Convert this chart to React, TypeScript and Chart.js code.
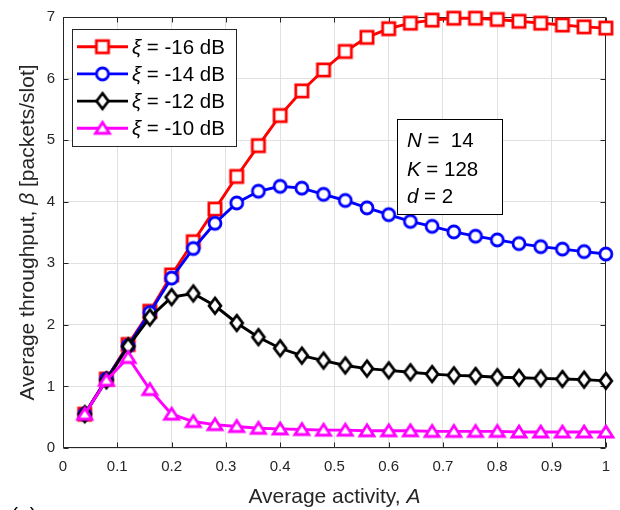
import React, { useEffect, useRef } from 'react';
import { Chart, registerables } from 'chart.js';

Chart.register(...registerables);

// ---------- data ----------
const activity = [0.04, 0.08, 0.12, 0.16, 0.2, 0.24, 0.28, 0.32, 0.36, 0.4, 0.44, 0.48, 0.52, 0.56, 0.6, 0.64, 0.68, 0.72, 0.76, 0.8, 0.84, 0.88, 0.92, 0.96, 1.0];
const xiLabels = ['-16', '-14', '-12', '-10'];
const throughputM16 = [0.55, 1.12, 1.68, 2.22, 2.81, 3.35, 3.88, 4.41, 4.91, 5.40, 5.80, 6.14, 6.44, 6.67, 6.81, 6.90, 6.95, 6.98, 6.98, 6.96, 6.93, 6.90, 6.87, 6.84, 6.82];
const throughputM14 = [0.55, 1.12, 1.66, 2.20, 2.76, 3.24, 3.65, 3.98, 4.17, 4.25, 4.22, 4.12, 4.02, 3.90, 3.79, 3.68, 3.60, 3.51, 3.44, 3.38, 3.32, 3.27, 3.23, 3.19, 3.15];
const throughputM12 = [0.55, 1.10, 1.65, 2.12, 2.45, 2.51, 2.31, 2.03, 1.80, 1.62, 1.50, 1.42, 1.34, 1.29, 1.26, 1.23, 1.20, 1.18, 1.17, 1.15, 1.14, 1.13, 1.12, 1.11, 1.09];
const throughputM10 = [0.55, 1.10, 1.47, 0.95, 0.55, 0.43, 0.38, 0.35, 0.32, 0.31, 0.30, 0.29, 0.29, 0.28, 0.28, 0.28, 0.27, 0.27, 0.27, 0.27, 0.26, 0.26, 0.26, 0.26, 0.26];
const xTickValues = [0, 0.1, 0.2, 0.3, 0.4, 0.5, 0.6, 0.7, 0.8, 0.9, 1];
const xTickLabels = ['0', '0.1', '0.2', '0.3', '0.4', '0.5', '0.6', '0.7', '0.8', '0.9', '1'];
const yTickValues = [0, 1, 2, 3, 4, 5, 6, 7];
const yTickLabels = ['0', '1', '2', '3', '4', '5', '6', '7'];
const paramLines: [string, string][] = [['N', ' =  14'], ['K', ' = 128'], ['d', ' = 2']];

const FAMILY = "'Liberation Sans', Arial, Helvetica, sans-serif";
const AXIS_COLOR = '#262626';
const GRID_COLOR = '#e1e1e1';
const LINE_W = 2.9;

type MarkerKind = 'square' | 'circle' | 'diamond' | 'triangle';

function makeMarker(kind: MarkerKind, color: string): HTMLCanvasElement {
  const c = document.createElement('canvas');
  const sizes: Record<MarkerKind, [number, number]> = {
    square: [20, 20],
    circle: [20, 20],
    diamond: [22, 26],
    triangle: [24, 22],
  };
  const [w, h] = sizes[kind];
  c.width = w;
  c.height = h;
  const ctx = c.getContext('2d')!;
  const cx = w / 2;
  const cy = h / 2;
  ctx.lineWidth = 2.8;
  ctx.strokeStyle = color;
  ctx.fillStyle = '#ffffff';
  ctx.lineJoin = 'miter';
  ctx.beginPath();
  if (kind === 'square') {
    const s = 6.1;
    ctx.rect(cx - s, cy - s, 2 * s, 2 * s);
  } else if (kind === 'circle') {
    ctx.arc(cx, cy, 6.0, 0, Math.PI * 2);
  } else if (kind === 'diamond') {
    const hw = 5.9;
    const hh = 7.8;
    ctx.moveTo(cx, cy - hh);
    ctx.lineTo(cx + hw, cy);
    ctx.lineTo(cx, cy + hh);
    ctx.lineTo(cx - hw, cy);
    ctx.closePath();
  } else {
    const hw = 7.0;
    ctx.moveTo(cx, cy - 6.0);
    ctx.lineTo(cx + hw, cy + 5.0);
    ctx.lineTo(cx - hw, cy + 5.0);
    ctx.closePath();
  }
  ctx.fill();
  ctx.stroke();
  return c;
}

function drawRich(ctx: CanvasRenderingContext2D, parts: [string, boolean][], x: number, y: number, size: number, align: 'left' | 'center') {
  const fonts = parts.map(([, it]) => `${it ? 'italic ' : ''}${size}px ${FAMILY}`);
  const widths = parts.map(([t], i) => {
    ctx.font = fonts[i];
    return ctx.measureText(t).width;
  });
  const total = widths.reduce((a, b) => a + b, 0);
  let cx = align === 'center' ? x - total / 2 : x;
  ctx.textAlign = 'left';
  ctx.textBaseline = 'alphabetic';
  parts.forEach(([t], i) => {
    ctx.font = fonts[i];
    ctx.fillText(t, cx, y);
    cx += widths[i];
  });
}

export default function App() {
  const ref = useRef<HTMLCanvasElement | null>(null);

  useEffect(() => {
    if (!ref.current) return;
    const colors = ['#ff0000', '#0000ff', '#000000', '#ff00ff'];
    const kinds: MarkerKind[] = ['square', 'circle', 'diamond', 'triangle'];
    const series = [throughputM16, throughputM14, throughputM12, throughputM10];
    const markers = kinds.map((k, i) => makeMarker(k, colors[i]));

    const decor = {
      id: 'decor',
      beforeDatasetsDraw(chart: any) {
        const { ctx, chartArea: a, scales } = chart;
        ctx.save();
        ctx.strokeStyle = AXIS_COLOR;
        ctx.lineWidth = 1;
        const L = Math.round(a.left) + 0.5;
        const R = Math.round(a.right) - 0.5;
        const T = Math.round(a.top) + 0.5;
        const B = Math.round(a.bottom) - 0.5;
        ctx.beginPath();
        ctx.rect(L, T, R - L, B - T);
        ctx.stroke();
        const tl = 5;
        ctx.beginPath();
        xTickValues.forEach((v) => {
          const px = Math.round(scales.x.getPixelForValue(v)) + 0.5;
          ctx.moveTo(px, B);
          ctx.lineTo(px, B - tl);
          ctx.moveTo(px, T);
          ctx.lineTo(px, T + tl);
        });
        yTickValues.forEach((v) => {
          const py = Math.round(scales.y.getPixelForValue(v)) + 0.5;
          ctx.moveTo(L, py);
          ctx.lineTo(L + tl, py);
          ctx.moveTo(R, py);
          ctx.lineTo(R - tl, py);
        });
        ctx.stroke();
        ctx.restore();
      },
      afterDatasetsDraw(chart: any) {
        const { ctx } = chart;
        ctx.save();
        // legend
        const lx = 72.5, ly = 29.5, lw = 164, lh = 117;
        ctx.fillStyle = '#ffffff';
        ctx.fillRect(lx, ly, lw, lh);
        ctx.strokeStyle = AXIS_COLOR;
        ctx.lineWidth = 1;
        ctx.strokeRect(lx, ly, lw, lh);
        chart.data.datasets.forEach((ds: any, i: number) => {
          const ry = 46.7 + i * 27.2;
          ctx.strokeStyle = ds.borderColor;
          ctx.lineWidth = LINE_W;
          ctx.beginPath();
          ctx.moveTo(77, ry);
          ctx.lineTo(128, ry);
          ctx.stroke();
          const m = ds.pointStyle as HTMLCanvasElement;
          ctx.drawImage(m, 102.5 - m.width / 2, ry - m.height / 2);
          ctx.fillStyle = '#000000';
          drawRich(ctx, [['ξ', true], [` = ${xiLabels[i]} dB`, false]], 132, ry + 7, 20.5, 'left');
        });
        // parameter box
        const bx = 397.5, by = 119.5, bw = 105, bh = 95;
        ctx.fillStyle = '#ffffff';
        ctx.fillRect(bx, by, bw, bh);
        ctx.strokeStyle = '#000000';
        ctx.lineWidth = 1;
        ctx.strokeRect(bx, by, bw, bh);
        ctx.fillStyle = '#000000';
        const baselines = [147, 175.5, 202.5];
        paramLines.forEach(([v, rest], i) => {
          drawRich(ctx, [[v, true], [rest, false]], 407, baselines[i], 20.5, 'left');
        });
        ctx.restore();
      },
      afterDraw(chart: any) {
        const { ctx, chartArea: a } = chart;
        ctx.save();
        ctx.fillStyle = AXIS_COLOR;
        drawRich(ctx, [['Average activity, ', false], ['A', true]], (a.left + a.right) / 2, 502.5, 21, 'center');
        ctx.translate(33.5, (a.top + a.bottom) / 2);
        ctx.rotate(-Math.PI / 2);
        drawRich(ctx, [['Average throughput, ', false], ['β', true], [' [packets/slot]', false]], 0, 0, 21, 'center');
        ctx.restore();
        ctx.save();
        ctx.fillStyle = '#000000';
        drawRich(ctx, [['(a)', false]], 11, 522, 21, 'left');
        ctx.restore();
      },
    };

    const chart = new Chart(ref.current, {
      type: 'line',
      data: {
        datasets: series.map((vals, i) => ({
          label: `ξ = ${xiLabels[i]} dB`,
          data: activity.map((x, j) => ({ x, y: vals[j] })),
          borderColor: colors[i],
          backgroundColor: colors[i],
          borderWidth: LINE_W,
          pointStyle: markers[i] as any,
          pointRadius: 7,
          pointHoverRadius: 7,
          tension: 0,
          fill: false,
          clip: false as any,
          order: 4 - i,
        })),
      },
      options: {
        responsive: false,
        animation: false,
        events: [],
        layout: { padding: { top: 14, right: 7, left: 0, bottom: 0 } },
        plugins: {
          legend: { display: false },
          tooltip: { enabled: false },
          title: { display: false },
        },
        scales: {
          x: {
            type: 'linear',
            min: 0,
            max: 1,
            afterBuildTicks: (s: any) => {
              s.ticks = xTickValues.map((v) => ({ value: v }));
            },
            ticks: {
              autoSkip: false,
              maxRotation: 0,
              padding: 10,
              color: AXIS_COLOR,
              font: { family: FAMILY, size: 15 },
              callback: (_v: any, i: number) => xTickLabels[i],
            },
            grid: { color: GRID_COLOR, lineWidth: 1, drawTicks: false },
            border: { display: false },
            afterFit: (s: any) => {
              s.height = 62;
            },
          },
          y: {
            type: 'linear',
            min: 0,
            max: 7,
            afterBuildTicks: (s: any) => {
              s.ticks = yTickValues.map((v) => ({ value: v }));
            },
            ticks: {
              autoSkip: false,
              padding: 8,
              color: AXIS_COLOR,
              font: { family: FAMILY, size: 15 },
              callback: (_v: any, i: number) => yTickLabels[i],
            },
            grid: { color: GRID_COLOR, lineWidth: 1, drawTicks: false },
            border: { display: false },
            afterFit: (s: any) => {
              s.width = 63;
            },
          },
        },
      },
      plugins: [decor],
    });
    return () => chart.destroy();
  }, []);

  return (
    <div style={{ position: 'absolute', left: 0, top: 0, width: 620, height: 510 }}>
      <canvas ref={ref} width={620} height={510} />
    </div>
  );
}
